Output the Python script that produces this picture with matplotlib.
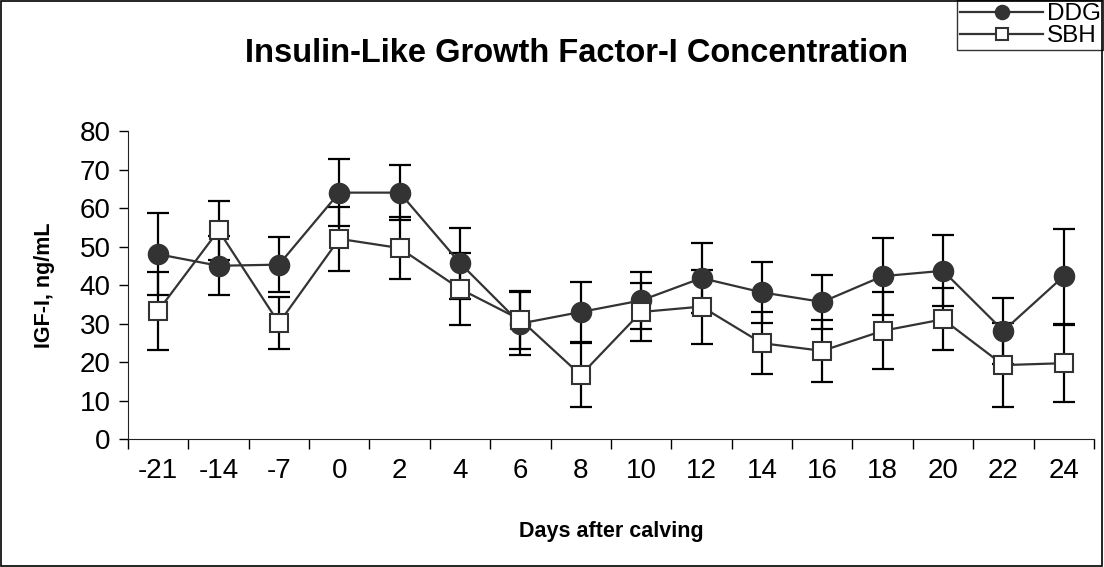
import matplotlib.pyplot as plt
from matplotlib.patches import Rectangle

plt.rcParams['font.family'] = ['Liberation Sans', 'DejaVu Sans']

days = ['-21', '-14', '-7', '0', '2', '4', '6', '8', '10', '12', '14', '16', '18', '20', '22', '24']
ddg = [48, 45, 45.3, 64, 64, 45.7, 30, 33, 36, 41.8, 38.1, 35.6, 42.3, 43.7, 28.1, 42.3]
ddg_err = [10.6, 7.7, 7.2, 8.7, 7.1, 9.2, 8.3, 7.7, 7.5, 9.1, 8.0, 7.0, 10.0, 9.2, 8.5, 12.3]
sbh = [33.3, 54.2, 30.1, 52, 49.6, 39, 31, 16.6, 33, 34.4, 24.9, 22.9, 28.1, 31.1, 19.2, 19.7]
sbh_err = [10.2, 7.6, 6.7, 8.3, 8.0, 9.4, 7.5, 8.4, 7.5, 9.6, 8.0, 8.0, 10.0, 8.0, 11.0, 10.0]

fig = plt.figure(figsize=(11.04, 5.67), dpi=100)
ax = fig.add_axes([0.1159, 0.2257, 0.875, 0.5432])

x = list(range(len(days)))

# error bars go underneath the markers
ax.errorbar(x, ddg, yerr=ddg_err, fmt='none', ecolor='black', elinewidth=1.6,
            capsize=8, capthick=1.6, zorder=2)
ax.errorbar(x, sbh, yerr=sbh_err, fmt='none', ecolor='black', elinewidth=1.6,
            capsize=8, capthick=1.6, zorder=2)

ax.plot(x, ddg, color='#333333', lw=1.6, marker='o', markersize=14.5,
        markerfacecolor='#333333', markeredgecolor='#333333', label='DDG', zorder=3)
ax.plot(x, sbh, color='#333333', lw=1.6, marker='s', markersize=13,
        markerfacecolor='white', markeredgecolor='#333333', markeredgewidth=1.5,
        label='SBH', zorder=4)

ax.set_xlim(-0.5, len(days) - 0.5)
ax.set_ylim(0, 80)
ax.set_yticks(range(0, 81, 10))
ax.set_xticks(x)
ax.set_xticklabels(days)
ax.set_xticks([i - 0.5 for i in range(len(days) + 1)], minor=True)
ax.tick_params(axis='x', which='major', length=0, pad=14, labelsize=20)
ax.tick_params(axis='x', which='minor', length=7, width=1, direction='out')
ax.tick_params(axis='y', length=6.5, width=1, direction='out', labelsize=20, pad=6)

ax.spines['top'].set_visible(False)
ax.spines['right'].set_visible(False)
ax.spines['left'].set_color('#222222')
ax.spines['bottom'].set_color('#222222')

ax.set_xlabel('Days after calving', fontsize=15.5, fontweight='bold', labelpad=26)
ax.set_ylabel('IGF-I, ng/mL', fontsize=15.5, fontweight='bold', labelpad=18)

fig.text(0.522, 0.906, 'Insulin-Like Growth Factor-I Concentration',
         ha='center', va='center', fontsize=23.5, fontweight='bold')

leg = ax.legend(loc='upper right', bbox_to_anchor=(0.9995, 0.9995),
                bbox_transform=fig.transFigure, fontsize=17.5, frameon=True,
                fancybox=False, edgecolor='black', borderpad=0.12,
                labelspacing=0.0, handlelength=3.4, handletextpad=0.15,
                borderaxespad=0.0, markerscale=0.7)
leg.get_frame().set_linewidth(1)

# thin border around the whole figure
fig.patches.append(Rectangle((0.0005, 0.001), 0.998, 0.997, transform=fig.transFigure,
                             fill=False, edgecolor='black', lw=1.2))

fig.savefig('out.png', dpi=100)
